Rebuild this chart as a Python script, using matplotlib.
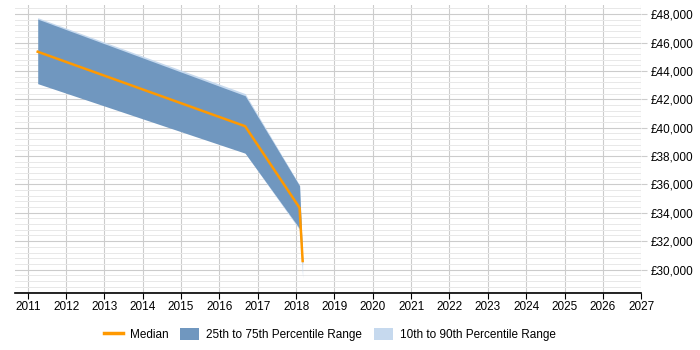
import matplotlib.pyplot as plt
from matplotlib.patches import Patch
from matplotlib.lines import Line2D
from matplotlib.ticker import MultipleLocator, FuncFormatter

plt.rcParams['font.family'] = ['Liberation Sans', 'DejaVu Sans']

# data
years = [2011.26, 2016.67, 2018.09, 2018.17]
p10 = [47600, 38200, 32800, 29400]
p25 = [43100, 38200, 32900, 30400]
median = [45350, 40100, 34350, 30600]
p75 = [47650, 42250, 35900, 30700]
p90 = [47750, 42400, 35950, 30900]

year_ticks = list(range(2011, 2028))
salary_ticks = list(range(30000, 48001, 2000))

fig = plt.figure(figsize=(7, 3.5), dpi=100)
ax = fig.add_axes([0.021, 0.163, 0.895, 0.823])

ax.fill_between(years, p10, p90, color='#c6d9ee', lw=0, zorder=2)
ax.fill_between(years, p25, p75, color='#7097bf', lw=0, zorder=3)
ax.plot(years, median, color='#ff9900', lw=1.8, zorder=4)

ax.set_xlim(2010.66, 2027)
ax.set_ylim(28350, 48650)
ax.set_xticks(year_ticks)
ax.set_yticks(salary_ticks)
ax.yaxis.set_minor_locator(MultipleLocator(400))
ax.yaxis.set_major_formatter(FuncFormatter(lambda v, p: '£{:,.0f}'.format(v)))
ax.yaxis.tick_right()

ax.grid(which='major', color='#cccccc', lw=0.8, zorder=0)
ax.grid(which='minor', axis='y', color='#e8e8e8', lw=0.7, zorder=0)
ax.set_axisbelow(True)

for s in ['top', 'right', 'left']:
    ax.spines[s].set_visible(False)
ax.spines['bottom'].set_color('black')
ax.spines['bottom'].set_linewidth(1.2)
ax.tick_params(axis='x', length=4, color='black', labelsize=8.5, pad=1.5)
ax.tick_params(axis='y', which='major', length=4, color='#cccccc', labelsize=8.5, pad=3)
ax.tick_params(axis='y', which='minor', length=0)

handles = [
    Line2D([0], [0], color='#ff9900', lw=2.5),
    Patch(facecolor='#7097bf', edgecolor='none'),
    Patch(facecolor='#c6d9ee', edgecolor='none'),
]
labels = ['Median', '25th to 75th Percentile Range', '10th to 90th Percentile Range']
fig.legend(handles, labels, loc='center', bbox_to_anchor=(0.471, 0.045), ncol=3,
           frameon=False, fontsize=8.5, handlelength=1.6, handleheight=1.3,
           columnspacing=1.0, handletextpad=0.6)

fig.savefig('out.png', dpi=100)
